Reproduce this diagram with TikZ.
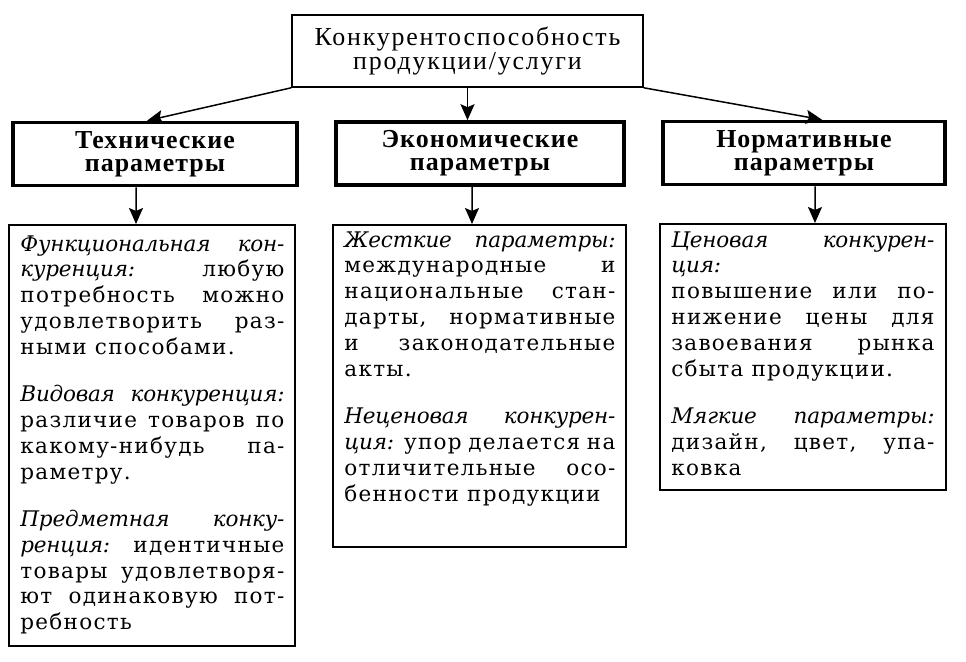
\documentclass[tikz,border=0pt]{standalone}
\usepackage{fontspec}
\setmainfont{DejaVu Serif}[LetterSpace=6, ItalicFeatures={LetterSpace=-1}]
\newfontfamily\titlefont[LetterSpace=7]{Liberation Serif}
\newfontfamily\headfont[LetterSpace=4]{Liberation Serif}
\usepackage{tikz}
\usetikzlibrary{arrows.meta,positioning}
\hbadness=10000

\begin{document}
\begin{tikzpicture}[
    x=0.5bp, y=-0.5bp,
    root/.style={rectangle, draw, line width=0.8bp, minimum width=175.5bp, minimum height=36bp, align=center, font=\titlefont\fontsize{13}{12.5}\selectfont},
    param/.style={rectangle, draw, line width=1.8bp, minimum height=31.5bp, align=center, font=\headfont\bfseries\fontsize{13}{11.5}\selectfont},
    panel/.style={rectangle, draw, line width=1bp},
    note/.style={inner sep=0pt, anchor=north west, align=justify, font=\fontsize{10.8}{13}\selectfont},
    arrow/.style={-{Stealth[length=8bp,width=7bp,inset=1.5bp]}, line width=0.75bp}
]
\useasboundingbox (0,0) rectangle (966,662);

% Root
\node[root] (prod) at (467.5,51) {Конкурентоспособность\\продукции/услуги};

% Parameter groups
\node[param, minimum width=142bp] (tech) at (155,154) {Технические\\параметры};
\node[param, minimum width=144bp] (econ) at (480,153.5) {Экономические\\параметры};
\node[param, minimum width=141bp] (norm) at (804,153) {Нормативные\\параметры};

% Panels
\node[panel, minimum width=143bp, minimum height=210.5bp] (tech-box) at (152,435.5) {};
\node[panel, minimum width=146.5bp, minimum height=161bp] (econ-box) at (479.5,386) {};
\node[panel, minimum width=143bp, minimum height=133bp] (norm-box) at (803,357) {};

\node[note, text width=132bp, below right=5.5bp and 6bp of tech-box.north west] (tech-text) {%
\textit{Функциональная кон-\linebreak куренция:} любую\linebreak потребность можно\linebreak удовлетворить раз-\linebreak ными способами.\\[10.5bp]
\textit{Видовая конкуренция:}\linebreak различие товаров по\linebreak какому-нибудь па-\linebreak раметру.\\[10.5bp]
\textit{Предметная конку-\linebreak ренция:} идентичные\linebreak товары удовлетворя-\linebreak ют одинаковую пот-\linebreak ребность};

\node[note, text width=135.5bp, below right=3.5bp and 6bp of econ-box.north west] (econ-text) {%
\textit{Жесткие параметры:}\linebreak международные и\linebreak национальные стан-\linebreak дарты, нормативные\linebreak и законодательные\linebreak акты.\\[10.5bp]
\textit{Неценовая конкурен-\linebreak ция:} упор делается на\linebreak отличительные осо-\linebreak бенности продукции};

\node[note, text width=131.5bp, below right=4bp and 6bp of norm-box.north west] (norm-text) {%
\textit{Ценовая конкурен-\linebreak ция:}\\
повышение или по-\linebreak нижение цены для\linebreak завоевания рынка\linebreak сбыта продукции.\\[10.5bp]
\textit{Мягкие параметры:}\linebreak дизайн, цвет, упа-\linebreak ковка};

% Arrows
\draw[arrow] (prod.south west) -- ([xshift=-4bp]tech.north);
\draw[arrow] (prod.south) -- (prod.south |- econ.north);
\draw[arrow] (prod.south east) -- ([xshift=9bp]norm.north);
\draw[arrow] ([xshift=-9.5bp]tech.south) -- ([xshift=-8bp]tech-box.north);
\draw[arrow] ([xshift=-4bp]econ.south) -- ([xshift=-3.75bp]econ-box.north);
\draw[arrow] ([xshift=5.5bp]norm.south) -- ([xshift=6bp]norm-box.north);

\end{tikzpicture}
\end{document}
